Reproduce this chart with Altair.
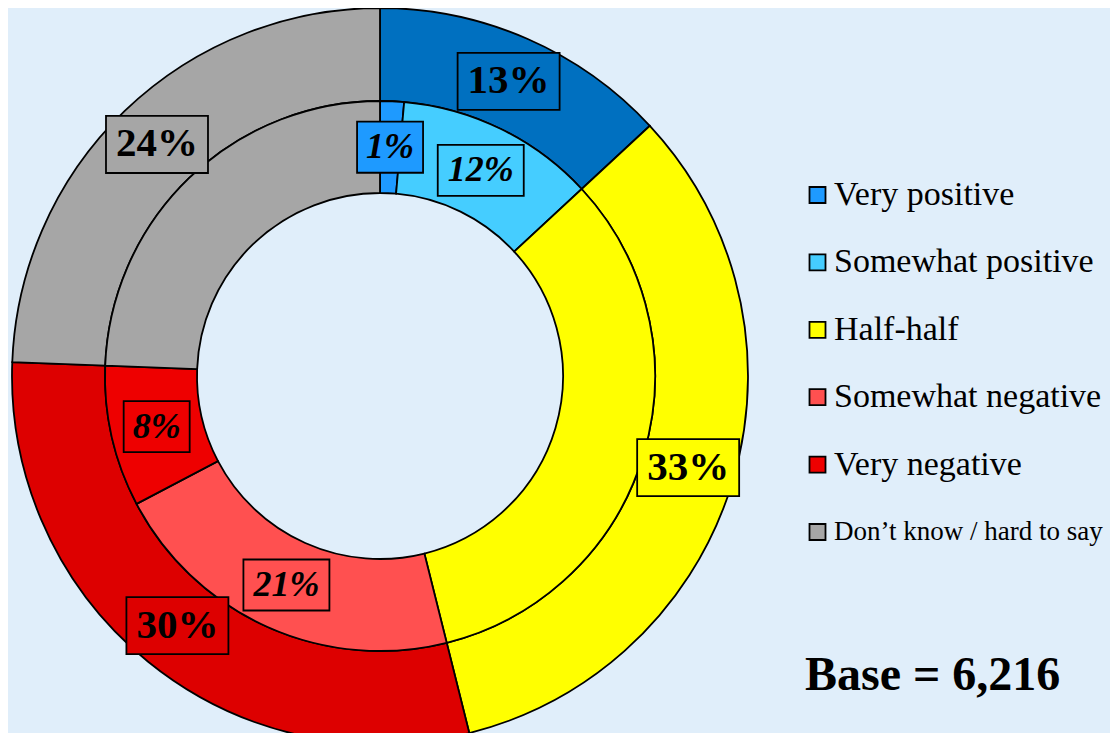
import math
import altair as alt
import pandas as pd

# ---- data ----
inner_categories = ["Very positive", "Somewhat positive", "Half-half",
                    "Somewhat negative", "Very negative", "Don’t know / hard to say"]
inner_values = [1.4, 11.7, 33.0, 21.2, 8.3, 24.4]
inner_labels = ["1%", "12%", "", "21%", "8%", ""]

outer_categories = ["Positive total", "Half-half", "Negative total", "Don’t know / hard to say"]
outer_values = [13.1, 33.0, 29.5, 24.4]
outer_labels = ["13%", "33%", "30%", "24%"]

legend_categories = inner_categories
base_n = 6216

color_domain = ["Very positive", "Somewhat positive", "Half-half", "Somewhat negative",
                "Very negative", "Don’t know / hard to say", "Positive total", "Negative total"]
color_range = ["#1E9AFF", "#45CDFF", "#FFFF00", "#FF5050",
               "#EE0000", "#A6A6A6", "#0070C0", "#DD0000"]


def ring(cats, vals, labels):
    rows, acc = [], 0.0
    for c, v, l in zip(cats, vals, labels):
        rows.append({"key": c, "value": v, "start": acc, "end": acc + v, "label": l})
        acc += v
    return pd.DataFrame(rows)


inner_df = ring(inner_categories, inner_values, inner_labels)
outer_df = ring(outer_categories, outer_values, outer_labels)
legend_df = pd.DataFrame({"cat": legend_categories})
base_df = pd.DataFrame({"txt": [f"Base = {base_n:,}"]})

# ---- scales (1 unit = 1 px, origin at the doughnut centre) ----
x_scale = alt.Scale(domain=[-372, 730], nice=False, zero=False)
y_scale = alt.Scale(domain=[-357, 368], nice=False, zero=False)
theta_scale = alt.Scale(domain=[0, 100], range=[0, 2 * math.pi])
color_scale = alt.Scale(domain=color_domain, range=color_range)

R_OUT, R_MID, R_IN = 368, 275, 183


def arcs(df, r1, r2):
    return alt.Chart(df).mark_arc(stroke="black", strokeWidth=1.8).encode(
        x=alt.XDatum(0, type="quantitative", scale=x_scale, axis=None),
        y=alt.YDatum(0, type="quantitative", scale=y_scale, axis=None),
        theta=alt.Theta("start:Q", scale=theta_scale),
        theta2="end:Q",
        radius=alt.value(r1),
        radius2=alt.value(r2),
        fill=alt.Fill("key:N", scale=color_scale, legend=None),
    )


def positioned(df, r):
    return alt.Chart(df).transform_filter("datum.label != ''").transform_calculate(
        lx=f"{r} * sin((datum.start + datum.end) / 2 / 100 * 2 * PI)",
        ly=f"{r} * cos((datum.start + datum.end) / 2 / 100 * 2 * PI)",
    )


R_LAB_OUT = (R_OUT + R_MID) / 2
R_LAB_IN = (R_MID + R_IN) / 2

outer_boxes = positioned(outer_df, R_LAB_OUT).mark_point(
    filled=True, opacity=1, stroke="black", strokeWidth=1.8,
    shape="M-1,-0.56L1,-0.56L1,0.56L-1,0.56Z", size=102 * 102,
).encode(
    x=alt.X("lx:Q", scale=x_scale, axis=None),
    y=alt.Y("ly:Q", scale=y_scale, axis=None),
    fill=alt.Fill("key:N", scale=color_scale, legend=None),
)

outer_text = positioned(outer_df, R_LAB_OUT).mark_text(
    font="Liberation Serif", fontWeight="bold", fontSize=41,
    align="center", baseline="middle", color="black",
).encode(
    x=alt.X("lx:Q", scale=x_scale, axis=None),
    y=alt.Y("ly:Q", scale=y_scale, axis=None),
    text="label:N",
)

inner_boxes = positioned(inner_df, R_LAB_IN).mark_point(
    filled=True, opacity=1, stroke="black", strokeWidth=1.8,
).encode(
    x=alt.X("lx:Q", scale=x_scale, axis=None),
    y=alt.Y("ly:Q", scale=y_scale, axis=None),
    fill=alt.Fill("key:N", scale=color_scale, legend=None),
    shape=alt.condition("length(datum.label) > 2",
                        alt.value("M-1,-0.593L1,-0.593L1,0.593L-1,0.593Z"),
                        alt.value("M-1,-0.773L1,-0.773L1,0.773L-1,0.773Z")),
    size=alt.condition("length(datum.label) > 2", alt.value(86 * 86), alt.value(66 * 66)),
)

inner_text = positioned(inner_df, R_LAB_IN).mark_text(
    font="Liberation Serif", fontWeight="bold", fontStyle="italic", fontSize=36,
    align="center", baseline="middle", color="black",
).encode(
    x=alt.X("lx:Q", scale=x_scale, axis=None),
    y=alt.Y("ly:Q", scale=y_scale, axis=None),
    text="label:N",
)

main = alt.layer(
    arcs(outer_df, R_OUT, R_MID),
    arcs(inner_df, R_MID, R_IN),
    outer_boxes, outer_text, inner_boxes, inner_text,
)

# ---- legend ----
legend_y = alt.Y("cat:N", sort=legend_categories,
                 scale=alt.Scale(type="point", domain=legend_categories,
                                 range=[187, 524], padding=0),
                 axis=None)

legend_squares = alt.Chart(legend_df).mark_point(
    shape="square", filled=True, opacity=1, stroke="black", strokeWidth=1.8, size=256,
).encode(
    x=alt.value(809.5),
    y=legend_y,
    fill=alt.Fill("cat:N", scale=color_scale, legend=None),
)

legend_text_main = alt.Chart(legend_df).transform_filter(
    "length(datum.cat) <= 20"
).mark_text(
    font="Liberation Serif", fontSize=34, align="left", baseline="middle", color="black",
).encode(
    x=alt.value(826),
    y=legend_y,
    text="cat:N",
)

legend_text_long = alt.Chart(legend_df).transform_filter(
    "length(datum.cat) > 20"
).mark_text(
    font="Liberation Serif", fontSize=27, align="left", baseline="middle", color="black",
).encode(
    x=alt.value(826),
    y=legend_y,
    text="cat:N",
)

base_text = alt.Chart(base_df).mark_text(
    font="Liberation Serif", fontWeight="bold", fontSize=48,
    align="left", baseline="alphabetic", color="black",
).encode(
    x=alt.value(797),
    y=alt.value(682),
    text="txt:N",
)

legend = alt.layer(legend_squares, legend_text_main, legend_text_long, base_text)

chart = alt.layer(main, legend).resolve_scale(
    x="independent", y="independent"
).properties(
    width=1102, height=725, background="#E0EEFA", padding=0,
    autosize=alt.AutoSizeParams(type="none"),
).configure_view(stroke=None)

chart.save("out.html", embed_options={"renderer": "svg", "actions": False})
